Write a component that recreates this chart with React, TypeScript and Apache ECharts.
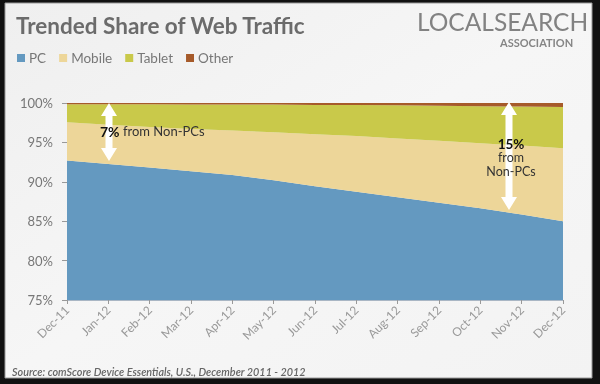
import React, { useEffect, useRef } from "react";
import * as echarts from "echarts";

const months = ["Dec-11", "Jan-12", "Feb-12", "Mar-12", "Apr-12", "May-12", "Jun-12", "Jul-12", "Aug-12", "Sep-12", "Oct-12", "Nov-12", "Dec-12"];
const pcShare = [92.7, 92.25, 91.8, 91.35, 90.85, 90.2, 89.45, 88.75, 88.05, 87.35, 86.65, 85.85, 85.0];
const mobileShare = [4.85, 5.0, 5.15, 5.35, 5.65, 6.1, 6.6, 7.05, 7.45, 7.85, 8.25, 8.75, 9.25];
const tabletShare = [2.3, 2.6, 2.9, 3.1, 3.3, 3.5, 3.7, 3.95, 4.2, 4.45, 4.7, 4.95, 5.25];
const otherShare = [0.15, 0.15, 0.15, 0.2, 0.2, 0.2, 0.25, 0.25, 0.3, 0.35, 0.4, 0.45, 0.5];
const seriesNames = ["PC", "Mobile", "Tablet", "Other"];
const colors = ["#6499C0", "#EDD699", "#C9C94A", "#A65A2A"];

function dblArrow(cx: number, y1: number, y2: number) {
  const sw = 3.5, hw = 8, hl = 13;
  return [
    [cx, y1], [cx + hw, y1 + hl], [cx + sw, y1 + hl], [cx + sw, y2 - hl], [cx + hw, y2 - hl],
    [cx, y2], [cx - hw, y2 - hl], [cx - sw, y2 - hl], [cx - sw, y1 + hl], [cx - hw, y1 + hl],
  ];
}

export default function App() {
  const ref = useRef<HTMLDivElement>(null);
  useEffect(() => {
    const chart = echarts.init(ref.current!, null, { renderer: "svg" });
    const font = "Lato";
    const dataSets = [pcShare, mobileShare, tabletShare, otherShare];
    chart.setOption({
      animation: false,
      color: colors,
      title: {
        text: "Trended Share of Web Traffic",
        left: 11,
        top: 9,
        textStyle: { color: "#6b6b6b", fontSize: 22.5, fontWeight: "bold", fontFamily: font },
      },
      legend: {
        data: seriesNames,
        left: 12,
        top: 46,
        icon: "rect",
        itemWidth: 8,
        itemHeight: 8,
        itemGap: 13,
        textStyle: { color: "#777", fontSize: 13.5, fontFamily: font, padding: [0, 0, 0, -1] },
      },
      grid: { left: 67, right: 37, top: 103, bottom: 84 },
      xAxis: {
        type: "category",
        data: months,
        boundaryGap: false,
        axisLine: { lineStyle: { color: "#a9b6c4" } },
        axisTick: { show: true, length: 4, lineStyle: { color: "#999" } },
        axisLabel: { rotate: 45, color: "#999", fontSize: 12, fontFamily: font, margin: 8 },
      },
      yAxis: {
        type: "value",
        min: 75,
        max: 100,
        interval: 5,
        splitLine: { show: false },
        axisLine: { show: false },
        axisTick: { show: true, length: 5, lineStyle: { color: "#999" } },
        axisLabel: { formatter: "{value}%", color: "#777", fontSize: 13, fontFamily: font, margin: 14 },
      },
      series: dataSets.map((d, i) => ({
        name: seriesNames[i],
        type: "line",
        stack: "share",
        data: d,
        symbol: "none",
        lineStyle: { width: 0 },
        areaStyle: { opacity: 1, color: colors[i] },
        z: 2 + i,
      })),
      graphic: {
        elements: [
          { type: "rect", z: -100, shape: { x: 0, y: 0, width: 600, height: 384 }, style: { fill: "#111" } },
          {
            type: "rect", z: -99, shape: { x: 5, y: 3, width: 587, height: 375 },
            style: {
              fill: new echarts.graphic.LinearGradient(0, 0, 1, 1, [
                { offset: 0, color: "#efefef" },
                { offset: 0.5, color: "#f6f6f6" },
                { offset: 1, color: "#f3f3f3" },
              ]),
              stroke: "#9a9a9a", lineWidth: 1,
            },
          },
          { type: "text", z: 10, x: 417, y: 9, style: { text: "LOCALSEARCH", fill: "#828282", fontSize: 24.5, fontFamily: font, fontWeight: "normal" } },
          { type: "text", z: 10, x: 500, y: 37, style: { text: "ASSOCIATION", fill: "#858585", fontSize: 11, fontFamily: font, fontWeight: "bold" } },
          { type: "polygon", z: 20, shape: { points: dblArrow(109, 103, 161) }, style: { fill: "#ffffff" } },
          { type: "polygon", z: 20, shape: { points: dblArrow(509, 102, 210) }, style: { fill: "#ffffff" } },
          {
            type: "text", z: 21, x: 100, y: 131,
            style: {
              text: "{b|7%} from Non-PCs",
              verticalAlign: "middle",
              fill: "#333",
              fontSize: 13,
              fontFamily: font,
              rich: { b: { fontWeight: "bold", fontSize: 14, fill: "#111", fontFamily: font } },
            },
          },
          { type: "text", z: 21, x: 511, y: 143.5, style: { text: "15%", align: "center", verticalAlign: "middle", fill: "#111", fontSize: 13.5, fontWeight: "bold", fontFamily: font } },
          { type: "text", z: 21, x: 511, y: 157.5, style: { text: "from", align: "center", verticalAlign: "middle", fill: "#333", fontSize: 12.5, fontFamily: font } },
          { type: "text", z: 21, x: 511, y: 171.5, style: { text: "Non-PCs", align: "center", verticalAlign: "middle", fill: "#333", fontSize: 12.5, fontFamily: font } },
          {
            type: "text", z: 10, x: 12, y: 371,
            style: { text: "Source: comScore Device Essentials, U.S., December 2011 - 2012", verticalAlign: "middle", fill: "#666", fontSize: 10.8, fontStyle: "italic", fontWeight: 600, fontFamily: font },
          },
        ],
      },
    });
    return () => chart.dispose();
  }, []);
  return <div ref={ref} style={{ position: "fixed", left: 0, top: 0, width: 600, height: 384 }} />;
}
